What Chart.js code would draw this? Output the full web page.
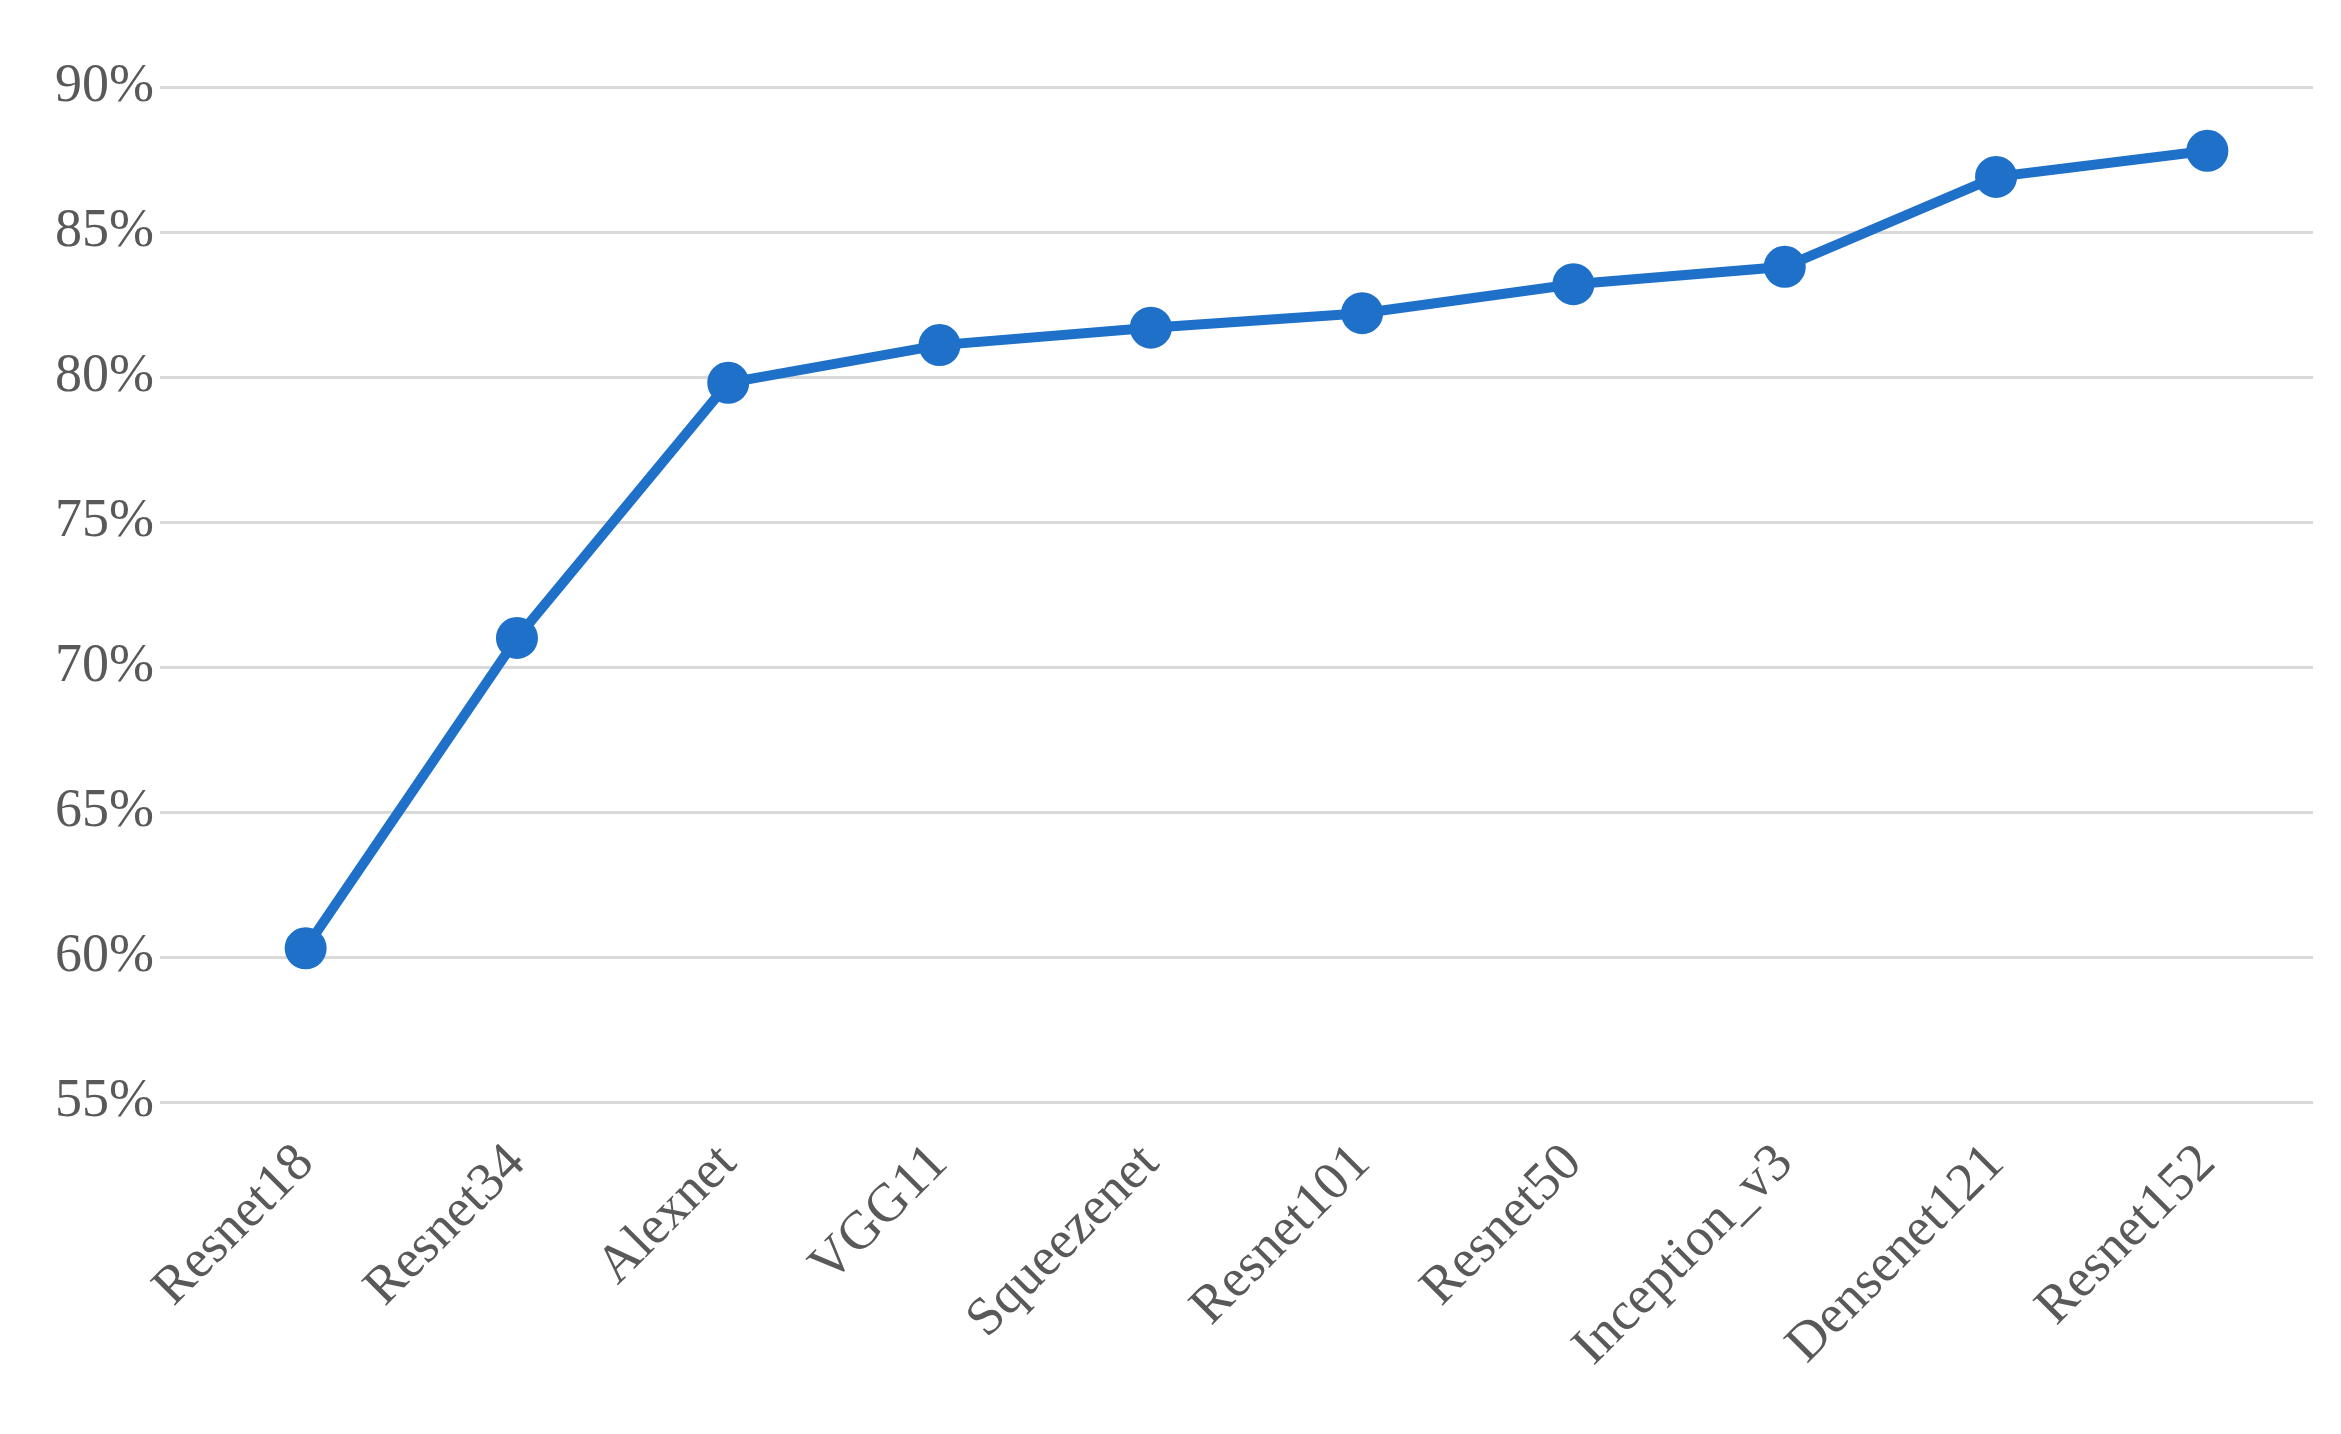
<!DOCTYPE html>
<html><head><meta charset="utf-8">
<script src="https://cdn.jsdelivr.net/npm/chart.js@4/dist/chart.umd.min.js"></script>
<style>html,body{margin:0;padding:0;background:#fff}#c{display:block}</style>
</head><body>
<canvas id="c" width="2341" height="1434"></canvas>
<script>
const categories = ["Resnet18","Resnet34","Alexnet","VGG11","Squeezenet","Resnet101","Resnet50","Inception_v3","Densenet121","Resnet152"];
const accuracy = [60.3, 71.0, 79.8, 81.1, 81.7, 82.2, 83.2, 83.8, 86.9, 87.8];
const yTicks = [55, 60, 65, 70, 75, 80, 85, 90];
const font = {family: "'Liberation Serif', 'Times New Roman', serif", size: 54};
new Chart(document.getElementById('c'), {
  type: 'line',
  data: {labels: categories, datasets: [{data: accuracy, borderColor: '#1f70c8', backgroundColor: '#1f70c8',
    borderWidth: 10, pointRadius: 16, pointHoverRadius: 16, tension: 0, fill: false}]},
  options: {
    responsive: false, devicePixelRatio: 1, animation: false,
    layout: {padding: {top: 87, right: 28, left: 0, bottom: 0}},
    plugins: {legend: {display: false}, tooltip: {enabled: false}},
    scales: {
      x: {offset: true, grid: {display: false}, border: {display: false},
        afterFit: a => { a.height = 332; },
        ticks: {font, color: '#595959', maxRotation: 45, minRotation: 45, padding: 22}},
      y: {min: 55, max: 90, border: {display: false},
        afterFit: a => { a.width = 200; },
        afterBuildTicks: a => { a.ticks = yTicks.map(v => ({value: v})); },
        grid: {color: '#d9d9d9', lineWidth: 3, tickLength: 40, drawTicks: true},
        ticks: {font, color: '#595959', padding: 6, callback: v => v + '%'}}
    }
  }
});
</script>
</body></html>
